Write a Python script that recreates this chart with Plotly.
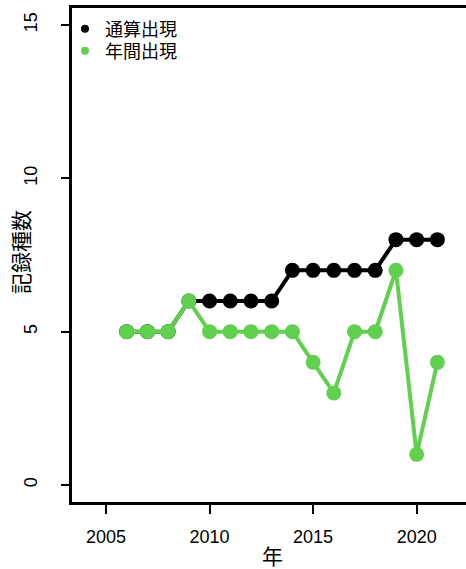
import plotly.graph_objects as go

years = list(range(2006, 2022))
cumulative = [5, 5, 5, 6, 6, 6, 6, 6, 7, 7, 7, 7, 7, 8, 8, 8]
annual = [5, 5, 5, 6, 5, 5, 5, 5, 5, 4, 3, 5, 5, 7, 1, 4]
series_names = ["通算出現", "年間出現"]
x_ticks = [2005, 2010, 2015, 2020]
y_ticks = [0, 5, 10, 15]
x_title = "年"
y_title = "記録種数"

BLACK = "#000000"
GREEN = "#61D04F"
FONT = "Liberation Sans, Arial, Noto Sans CJK JP"

W, H = 466, 569
L, R, T, B = 72, 0, 8, 67
PW, PH = W - L - R, H - T - B
PB = H - B  # plot bottom pixel

# axis ranges chosen so 2005 -> px 106, 2020 -> px 417, 0 -> px 485, 15 -> px 25
XPX = 20.71
YPX = 30.667
x_range = [2005 - (106 - L) / XPX, 2005 + (W - R - 106) / XPX]
y_range = [-(PB - 485) / YPX, 15 + (25 - T) / YPX]


def px_y(y):
    return (PB - y) / PH


def px_x(x):
    return (x - L) / PW


fig = go.Figure()
for vals, col in [(cumulative, BLACK), (annual, GREEN)]:
    fig.add_trace(go.Scatter(x=years, y=vals, mode="lines+markers",
                             line=dict(color=col, width=4),
                             marker=dict(color=col, size=15),
                             showlegend=False, hoverinfo="skip"))
legend_ids = ["legend", "legend2"]
for name, col, lg in zip(series_names, [BLACK, GREEN], legend_ids):
    fig.add_trace(go.Scatter(x=[None], y=[None], mode="markers", name=name,
                             marker=dict(color=col, size=8), legend=lg))

leg_common = dict(x=px_x(65), xanchor="left", yanchor="middle",
                  bgcolor="rgba(0,0,0,0)", font=dict(size=18), itemwidth=30)

fig.update_layout(
    width=W, height=H,
    margin=dict(l=L, r=R, t=T, b=B),
    plot_bgcolor="white", paper_bgcolor="white",
    font=dict(family=FONT, size=18, color="black"),
    showlegend=True,
    legend=dict(y=px_y(29), **leg_common),
    legend2=dict(y=px_y(51), **leg_common),
    xaxis=dict(range=x_range, tickvals=x_ticks, ticks="outside",
               ticklen=9, tickwidth=2, tickcolor="black",
               showline=True, linewidth=3, linecolor="black", mirror=True,
               showgrid=False, zeroline=False, ticklabelstandoff=7),
    yaxis=dict(range=y_range, tickvals=y_ticks, ticks="outside",
               ticklen=8, tickwidth=2, tickcolor="black", tickangle=-90,
               showline=True, linewidth=3, linecolor="black",
               showgrid=False, zeroline=False, ticklabelstandoff=17),
    annotations=[
        dict(text=x_title, xref="paper", yref="paper",
             x=px_x(272), y=px_y(556),
             showarrow=False, xanchor="center", yanchor="middle",
             font=dict(size=21)),
        dict(text=y_title, xref="paper", yref="paper", textangle=-90,
             x=px_x(21), y=px_y(252),
             showarrow=False, xanchor="center", yanchor="middle",
             font=dict(size=21)),
    ],
)

fig.write_html("out.html", config={"displayModeBar": False},
               post_script="document.body.style.margin='0px';document.body.style.overflow='hidden';")
